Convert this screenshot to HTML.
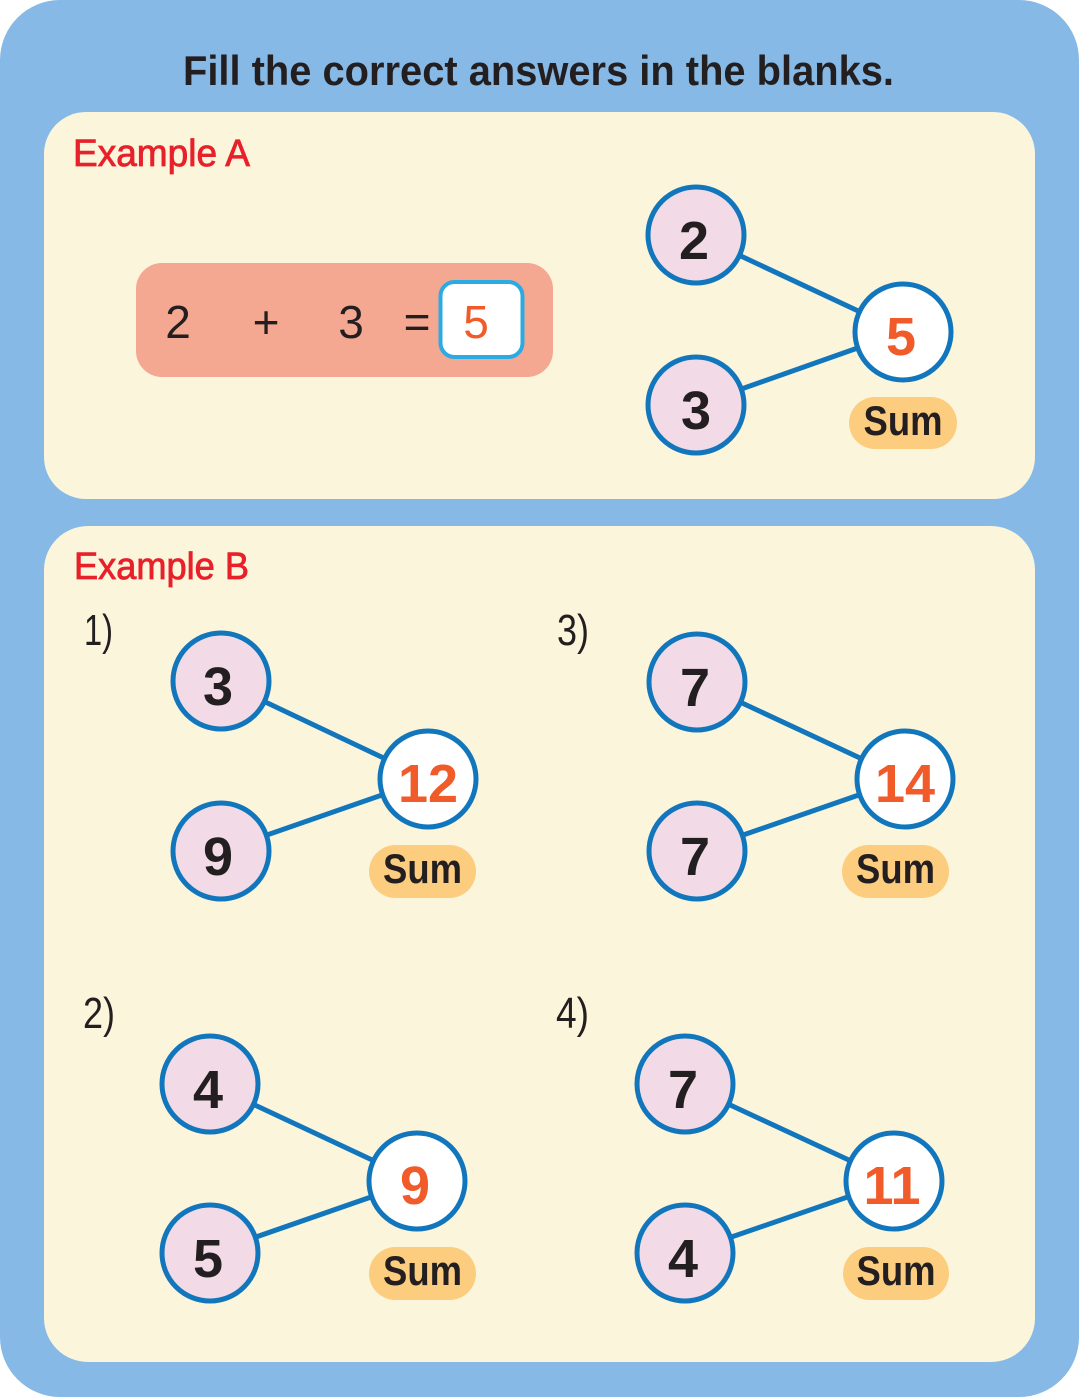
<!DOCTYPE html>
<html>
<head>
<meta charset="utf-8">
<style>
  html,body{margin:0;padding:0;background:#ffffff;}
  svg{display:block;}
  text{font-family:"Liberation Sans", "DejaVu Sans", sans-serif;}
</style>
</head>
<body>
<svg width="1080" height="1397" viewBox="0 0 1080 1397" xmlns="http://www.w3.org/2000/svg">
  <rect x="0" y="0" width="1079" height="1397" rx="60" ry="60" fill="#86B9E6"/>
  <text x="183" y="85" font-size="42" font-weight="bold" fill="#231F20" textLength="711" lengthAdjust="spacingAndGlyphs">Fill the correct answers in the blanks.</text>

  <!-- Panel A -->
  <rect x="44" y="112" width="991" height="387" rx="42" ry="42" fill="#FBF5DC"/>
  <text x="73" y="166" font-size="38" fill="#E8202A" stroke="#E8202A" stroke-width="0.8" textLength="177" lengthAdjust="spacingAndGlyphs">Example A</text>

  <rect x="136" y="263" width="417" height="114" rx="26" ry="26" fill="#F4A791"/>
  <text x="178" y="338" font-size="46" fill="#231F20" text-anchor="middle">2</text>
  <text x="266" y="338" font-size="46" fill="#231F20" text-anchor="middle">+</text>
  <text x="351" y="338" font-size="46" fill="#231F20" text-anchor="middle">3</text>
  <text x="417" y="338" font-size="46" fill="#231F20" text-anchor="middle">=</text>
  <rect x="440.5" y="282" width="82" height="75" rx="14" ry="14" fill="#FFFFFF" stroke="#2BABE2" stroke-width="4"/>
  <text x="476" y="338" font-size="46" fill="#F15A29" text-anchor="middle">5</text>

  <g stroke="#1276BC" stroke-width="5" fill="none">
    <line x1="696" y1="235" x2="903" y2="332"/>
    <line x1="696" y1="405" x2="903" y2="332"/>
  </g>
  <g stroke="#1276BC" stroke-width="5">
    <circle cx="696" cy="235" r="48" fill="#F2DBE7"/>
    <circle cx="696" cy="405" r="48" fill="#F2DBE7"/>
    <circle cx="903" cy="332" r="48" fill="#FFFFFF"/>
  </g>
  <text x="694" y="259" font-size="54" font-weight="bold" fill="#231F20" text-anchor="middle">2</text>
  <text x="696" y="429" font-size="54" font-weight="bold" fill="#231F20" text-anchor="middle">3</text>
  <text x="901" y="355" font-size="54" font-weight="bold" fill="#F15A29" text-anchor="middle">5</text>
  <rect x="849" y="397" width="108" height="52" rx="26" ry="26" fill="#FDCD7F"/>
  <text x="903" y="435" font-size="42" font-weight="bold" fill="#231F20" text-anchor="middle" textLength="79" lengthAdjust="spacingAndGlyphs">Sum</text>

  <!-- Panel B -->
  <rect x="44" y="526" width="991" height="836" rx="44" ry="44" fill="#FBF5DC"/>
  <text x="74" y="579" font-size="38" fill="#E8202A" stroke="#E8202A" stroke-width="0.8" textLength="175" lengthAdjust="spacingAndGlyphs">Example B</text>

  <text x="84" y="645" font-size="44" fill="#231F20" textLength="29" lengthAdjust="spacingAndGlyphs">1)</text>
  <text x="557" y="645" font-size="44" fill="#231F20" textLength="32" lengthAdjust="spacingAndGlyphs">3)</text>
  <text x="83" y="1028" font-size="44" fill="#231F20" textLength="32" lengthAdjust="spacingAndGlyphs">2)</text>
  <text x="556" y="1028" font-size="44" fill="#231F20" textLength="33" lengthAdjust="spacingAndGlyphs">4)</text>

  <g stroke="#1276BC" stroke-width="5" fill="none">
    <line x1="221" y1="681" x2="428" y2="779"/>
    <line x1="221" y1="851" x2="428" y2="779"/>
    <line x1="697" y1="682" x2="905" y2="779"/>
    <line x1="697" y1="851" x2="905" y2="779"/>
    <line x1="210" y1="1084" x2="417" y2="1181"/>
    <line x1="210" y1="1253" x2="417" y2="1181"/>
    <line x1="685" y1="1084" x2="894" y2="1181"/>
    <line x1="685" y1="1253" x2="894" y2="1181"/>
  </g>

  <g stroke="#1276BC" stroke-width="5">
    <circle cx="221" cy="681" r="48" fill="#F2DBE7"/>
    <circle cx="221" cy="851" r="48" fill="#F2DBE7"/>
    <circle cx="428" cy="779" r="48" fill="#FFFFFF"/>
    <circle cx="697" cy="682" r="48" fill="#F2DBE7"/>
    <circle cx="697" cy="851" r="48" fill="#F2DBE7"/>
    <circle cx="905" cy="779" r="48" fill="#FFFFFF"/>
    <circle cx="210" cy="1084" r="48" fill="#F2DBE7"/>
    <circle cx="210" cy="1253" r="48" fill="#F2DBE7"/>
    <circle cx="417" cy="1181" r="48" fill="#FFFFFF"/>
    <circle cx="685" cy="1084" r="48" fill="#F2DBE7"/>
    <circle cx="685" cy="1253" r="48" fill="#F2DBE7"/>
    <circle cx="894" cy="1181" r="48" fill="#FFFFFF"/>
  </g>

  <g font-size="54" font-weight="bold" text-anchor="middle">
    <text x="218" y="705" fill="#231F20">3</text>
    <text x="218" y="875" fill="#231F20">9</text>
    <text x="428" y="802" fill="#F15A29">12</text>
    <text x="695" y="706" fill="#231F20">7</text>
    <text x="695" y="875" fill="#231F20">7</text>
    <text x="905" y="802" fill="#F15A29">14</text>
    <text x="208" y="1108" fill="#231F20">4</text>
    <text x="208" y="1277" fill="#231F20">5</text>
    <text x="415" y="1204" fill="#F15A29">9</text>
    <text x="683" y="1108" fill="#231F20">7</text>
    <text x="683" y="1277" fill="#231F20">4</text>
    <text x="892" y="1204" fill="#F15A29">11</text>
  </g>

  <rect x="369" y="845" width="107" height="53" rx="26.5" ry="26.5" fill="#FDCD7F"/>
  <rect x="842" y="845" width="107" height="53" rx="26.5" ry="26.5" fill="#FDCD7F"/>
  <rect x="369" y="1247" width="107" height="53" rx="26.5" ry="26.5" fill="#FDCD7F"/>
  <rect x="843" y="1247" width="106" height="53" rx="26.5" ry="26.5" fill="#FDCD7F"/>
  <g font-size="42" font-weight="bold" fill="#231F20" text-anchor="middle">
    <text x="422.5" y="883" textLength="79" lengthAdjust="spacingAndGlyphs">Sum</text>
    <text x="895.5" y="883" textLength="79" lengthAdjust="spacingAndGlyphs">Sum</text>
    <text x="422.5" y="1285" textLength="79" lengthAdjust="spacingAndGlyphs">Sum</text>
    <text x="896" y="1285" textLength="79" lengthAdjust="spacingAndGlyphs">Sum</text>
  </g>
</svg>
</body>
</html>
